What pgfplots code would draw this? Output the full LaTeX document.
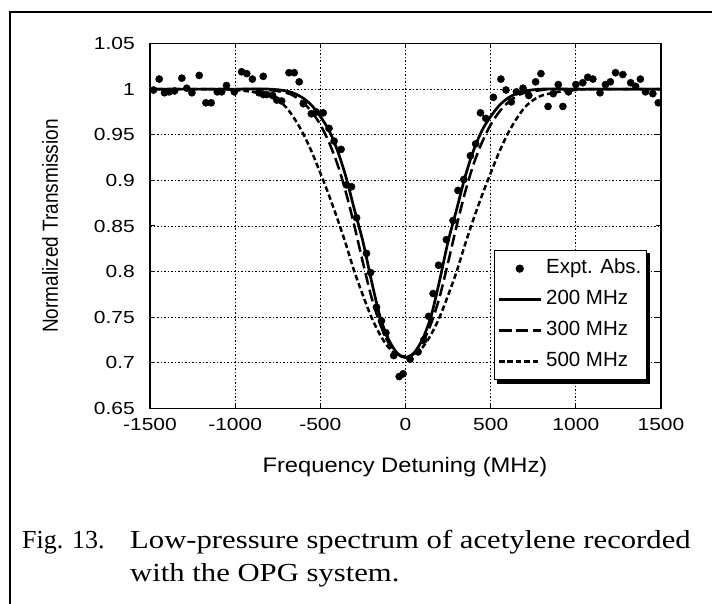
\documentclass[border=0pt]{standalone}
\usepackage{fontspec}
\setmainfont{Liberation Serif}
\newfontfamily\capfont{Liberation Serif}[FakeStretch=1.18]
\newfontfamily\arial{Liberation Sans}
\newfontfamily\tickfont{Liberation Sans}[FakeStretch=1.2]
\newfontfamily\labfont{Liberation Sans}[FakeStretch=1.13]
\usepackage{pgfplots}
\pgfplotsset{compat=1.18}
\pgfdeclarelayer{background}
\pgfsetlayers{background,main}

% measured data (Expt. Abs.)
\pgfplotstableread{
x y
-1479 0.999
-1446 1.011
-1415 0.996
-1387 0.997
-1356 0.998
-1313 1.012
-1284 1.001
-1254 0.996
-1211 1.015
-1172 0.985
-1141 0.985
-1105 0.997
-1079 0.997
-1051 1.004
-1005 0.997
-962 1.019
-932 1.017
-899 1.011
-860 0.996
-835 1.014
-834 0.994
-815 0.994
-780 0.993
-756 0.988
-727 0.987
-684 1.018
-653 1.018
-624 1.008
-600 0.984
-553 0.973
-524 0.975
-483 0.974
-449 0.957
-419 0.943
-378 0.934
-347 0.895
-317 0.893
-287 0.859
-229 0.820
-205 0.799
-170 0.761
-141 0.746
-115 0.733
-69 0.708
-37 0.685
-14 0.688
27 0.704
74 0.712
107 0.725
136 0.751
162 0.776
194 0.807
240 0.835
279 0.856
308 0.889
342 0.901
381 0.927
412 0.940
440 0.974
471 0.968
516 0.991
560 1.011
590 0.999
621 0.986
651 0.997
690 1.001
724 0.993
764 1.008
795 1.017
837 0.981
867 0.995
897 1.005
924 0.981
957 0.997
1000 1.005
1041 1.007
1070 1.013
1100 1.011
1142 0.996
1174 1.005
1203 1.008
1233 1.018
1276 1.016
1322 1.007
1351 1.003
1379 1.011
1409 0.997
1452 0.995
1484 0.985
}\expt

\begin{document}
\begin{tikzpicture}
\useasboundingbox (0,0) rectangle (712pt,604pt);
\draw[line width=2pt] (10pt,0pt) -- (10pt,592pt) -- (712pt,592pt);

\begin{axis}[
  at={(150pt,195.5pt)}, anchor=south west,
  scale only axis, width=511pt, height=365pt,
  xmin=-1500, xmax=1500, ymin=0.65, ymax=1.05,
  xtick={-1500,-1000,...,1500},
  ytick={0.65,0.7,0.75,0.8,0.85,0.9,0.95,1,1.05},
  grid=major,
  grid style={black, line width=0.9pt, dash pattern=on 1.5pt off 2pt},
  axis line style={line width=1.4pt},
  tick align=inside, major tick length=5pt,
  tick style={black, line width=1pt},
  /pgf/number format/assume math mode=true,
  /pgf/number format/1000 sep={},
  tick label style={font=\tickfont\fontsize{17.5}{20}\selectfont},
  xticklabel style={anchor=north, inner sep=0pt, yshift=-10pt},
  yticklabel style={anchor=east, inner sep=0pt, xshift=-15pt},
  legend style={name=leg, at={(rel axis cs:0.673,0.4345)}, anchor=north west,
    draw=black, line width=1pt, fill=white,
    font=\arial\fontsize{20.5}{24}\selectfont,
    nodes={text height=15pt, text depth=4.5pt, inner sep=2pt},
    cells={anchor=west}, row sep=7.5pt, column sep=2pt,
    inner xsep=3pt, inner ysep=6.5pt},
  legend image code/.code={\draw[mark repeat=2,mark phase=2,#1]
    plot coordinates {(0pt,0pt) (21pt,0pt) (42pt,0pt)};},
]
\addplot[only marks, mark=*, mark size=3.6pt, black] table {\expt};
\addlegendentry{Expt. Abs.}

\addplot[black, line width=2.7pt, smooth] coordinates {
(-1500,1.0) (-1000,1.0) (-800,1.0) (-700,0.998) (-650,0.995) (-600,0.990)
(-550,0.982) (-500,0.970) (-450,0.955) (-400,0.933) (-350,0.904) (-300,0.868)
(-250,0.833) (-200,0.790) (-150,0.751) (-100,0.726) (-50,0.711) (0,0.706)
(50,0.711) (100,0.726) (150,0.751) (200,0.790) (250,0.833) (300,0.868)
(350,0.904) (400,0.933) (450,0.955) (500,0.970) (550,0.982) (600,0.990)
(650,0.995) (700,0.998) (800,1.0) (1000,1.0) (1500,1.0)};
\addlegendentry{200 MHz}

\addplot[black, line width=2.5pt, dash pattern=on 12pt off 5pt, smooth] coordinates {
(-1500,1.0) (-900,1.0) (-800,0.999) (-700,0.996) (-650,0.992) (-600,0.985)
(-550,0.975) (-500,0.961) (-450,0.942) (-400,0.918) (-350,0.887) (-300,0.850)
(-250,0.810) (-200,0.772) (-150,0.743) (-100,0.722) (-50,0.710) (0,0.706)
(50,0.710) (100,0.722) (150,0.743) (200,0.772) (250,0.810) (300,0.850)
(350,0.887) (400,0.918) (450,0.942) (500,0.961) (550,0.975) (600,0.985)
(650,0.992) (700,0.996) (800,0.999) (900,1.0) (1500,1.0)};
\addlegendentry{300 MHz}

\addplot[black, line width=2.5pt, dash pattern=on 5.5pt off 3pt, smooth] coordinates {
(-1500,1.0) (-1100,1.0) (-1000,0.999) (-900,0.997) (-800,0.993) (-750,0.988)
(-700,0.980) (-650,0.967) (-600,0.951) (-550,0.931) (-500,0.908) (-450,0.884)
(-400,0.858) (-350,0.830) (-300,0.800) (-250,0.774) (-200,0.750) (-150,0.731)
(-100,0.717) (-50,0.709) (0,0.707)
(50,0.709) (100,0.717) (150,0.731) (200,0.750) (250,0.774) (300,0.800)
(350,0.830) (400,0.858) (450,0.884) (500,0.908) (550,0.931) (600,0.951)
(650,0.967) (700,0.980) (750,0.988) (800,0.993) (900,0.997) (1000,0.999)
(1100,1.0) (1500,1.0)};
\addlegendentry{500 MHz}
\end{axis}

% legend shadow, behind the legend box
\begin{pgfonlayer}{background}
\fill[black] ([shift={(3.5pt,-3.5pt)}]leg.south west) rectangle ([shift={(3.5pt,-3.5pt)}]leg.north east);
\end{pgfonlayer}

\node[rotate=90, inner sep=0pt] at (50pt,378pt)
  {\scalebox{1}[1.15]{\arial\fontsize{19}{22}\selectfont Normalized Transmission}};
\node[inner sep=0pt] at (405pt,137pt)
  {\labfont\fontsize{21}{24}\selectfont Frequency Detuning (MHz)};

\node[anchor=base west, inner sep=0pt, font=\fontsize{26}{30}\selectfont] at (22pt,55pt) {Fig. 13.};
\node[anchor=base west, inner sep=0pt, font=\capfont\fontsize{26}{30}\selectfont] at (130pt,55pt)
  {Low-pressure spectrum of acetylene recorded};
\node[anchor=base west, inner sep=0pt, font=\capfont\fontsize{26}{30}\selectfont] at (130pt,22pt)
  {with the OPG system.};
\end{tikzpicture}
\end{document}
